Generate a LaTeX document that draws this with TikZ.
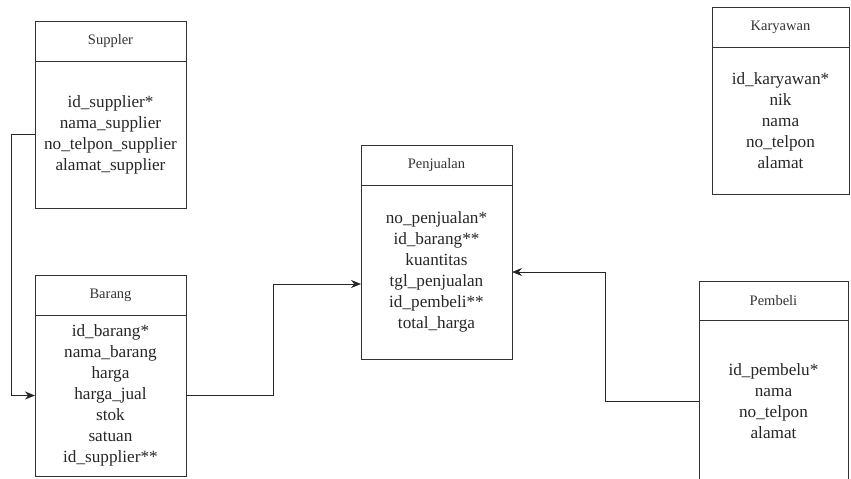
\documentclass[tikz,border=0pt]{standalone}
\usepackage{fontspec}
\setmainfont{Liberation Serif}
\usetikzlibrary{positioning,arrows.meta,calc}

\tikzset{
  judul/.style={draw=black!80, line width=1pt, minimum width=151pt, minimum height=40pt,
    inner sep=0pt, outer sep=0pt, text=black!80, font=\fontsize{14.5}{17}\selectfont},
  isi/.style={draw=black!80, line width=1pt, minimum width=151pt, inner sep=0pt,
    outer sep=0pt, align=center, text=black!85, font=\fontsize{17.2}{21}\selectfont},
  relasi/.style={draw=black!85, line width=1pt, -{Stealth[length=10pt,width=8pt]}}
}

\begin{document}
\begin{tikzpicture}[x=1pt,y=1pt,yscale=-1,xscale=1]
\useasboundingbox (0,0) rectangle (851,479);
\clip (0,0) rectangle (851,479);

% Suppler
\node[judul, anchor=north west] (sup) at (35,21) {Suppler};
\node[isi, minimum height=147pt, below=0pt of sup] (supb)
  {id\_supplier*\\nama\_supplier\\no\_telpon\_supplier\\alamat\_supplier};

% Barang
\node[judul, anchor=north west] (brg) at (35,275) {Barang};
\node[isi, minimum height=161pt, below=0pt of brg] (brgb)
  {id\_barang*\\nama\_barang\\harga\\harga\_jual\\stok\\satuan\\id\_supplier**};

% Penjualan
\node[judul, anchor=north west] (pjl) at (361,145) {Penjualan};
\node[isi, minimum height=174pt, below=0pt of pjl] (pjlb)
  {no\_penjualan*\\id\_barang**\\kuantitas\\tgl\_penjualan\\id\_pembeli**\\total\_harga};

% Karyawan
\node[judul, minimum width=137pt, anchor=north west] (kry) at (712,7) {Karyawan};
\node[isi, minimum width=137pt, minimum height=147pt, below=0pt of kry] (kryb)
  {id\_karyawan*\\nik\\nama\\no\_telpon\\alamat};

% Pembeli
\node[judul, minimum width=149pt, minimum height=39pt, anchor=north west] (pmb) at (699,281) {Pembeli};
\node[isi, minimum width=149pt, minimum height=162pt, below=0pt of pmb] (pmbb)
  {id\_pembelu*\\nama\\no\_telpon\\alamat};

% relasi
\draw[relasi] (supb.west) -- ++(-24,0) |- (brgb.west);
\draw[relasi] (brgb.east) -- ++(87,0) |- ($(pjlb.west)+(0,12)$);
\draw[relasi] (pmbb.west) -- ++(-94,0) |- (pjlb.east);
\end{tikzpicture}
\end{document}
